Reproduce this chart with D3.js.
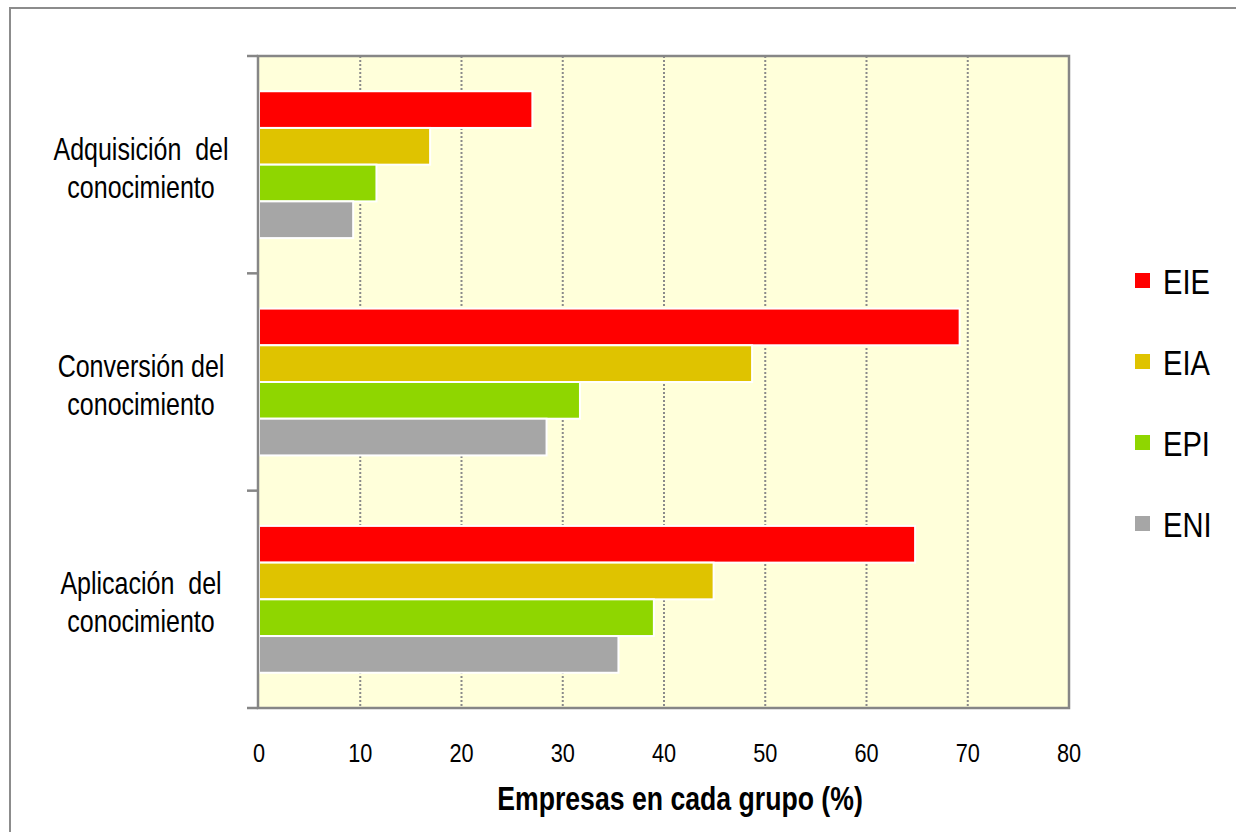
<!DOCTYPE html>
<html><head><meta charset="utf-8">
<script src="https://cdn.jsdelivr.net/npm/d3@7/dist/d3.min.js"></script>
<style>
html,body{margin:0;padding:0;background:#fff;}
svg text{font-family:"Liberation Sans",Arial,sans-serif;fill:#000;}
</style></head>
<body>
<svg id="c" width="1236" height="832"></svg>
<script>
const categories = ["Adquisición del conocimiento","Conversión del conocimiento","Aplicación del conocimiento"];
const categoryLines = [["Adquisición  del","conocimiento"],["Conversión del","conocimiento"],["Aplicación  del","conocimiento"]];
const series = ["EIE","EIA","EPI","ENI"];
const colors = ["#FF0000","#DFC300","#8FD600","#A6A6A6"];
const EIE = [27.0, 69.2, 64.8];
const EIA = [16.9, 48.7, 44.9];
const EPI = [11.6, 31.7, 39.0];
const ENI = [9.3, 28.4, 35.5];
const xTicks = [0,10,20,30,40,50,60,70,80];
const xTitle = "Empresas en cada grupo (%)";

const values = [EIE, EIA, EPI, ENI];
const svg = d3.select("#c");
const NARROW = 0.82;

function ntext(g, x, y, size, str, anchor, weight){
  const t = g.append("text")
    .attr("transform",`translate(${x},${y}) scale(${NARROW},1)`)
    .attr("text-anchor",anchor||"start").attr("font-size",size)
    .style("white-space","pre").text(str);
  if(weight) t.attr("font-weight",weight);
  return t;
}

// outer border (only left/top visible in frame)
svg.append("rect").attr("x",10).attr("y",8).attr("width",1300).attr("height",900)
  .attr("fill","none").attr("stroke","#8c8c8c").attr("stroke-width",2);

const L=259, R=1069, T=56, B=708;
const x = d3.scaleLinear().domain([0,80]).range([L,R]);
const y = d3.scaleBand().domain(categories).range([T,B]).paddingInner(0).paddingOuter(0);
const ys = d3.scaleBand().domain(series).range([0,y.bandwidth()]).paddingInner(0).paddingOuter(0.96);

svg.append("rect").attr("x",L).attr("y",T).attr("width",R-L).attr("height",B-T).attr("fill","#FFFFDA");

// gridlines
svg.append("g").selectAll("line").data(xTicks.filter(t=>t>0&&t<80)).join("line")
  .attr("x1",d=>x(d)).attr("x2",d=>x(d)).attr("y1",T).attr("y2",B)
  .attr("stroke","#8a8a8a").attr("stroke-width",2).attr("stroke-dasharray","2,2");

// bars
series.forEach((s,si)=>{
  svg.append("g").selectAll("rect").data(categories).join("rect")
    .attr("x",x(0)).attr("y",(c)=>y(c)+ys(s))
    .attr("width",(c,i)=>x(values[si][i])-x(0))
    .attr("height",ys.bandwidth())
    .attr("fill",colors[si]).attr("stroke","#fff").attr("stroke-width",2);
});

// plot border
svg.append("rect").attr("x",L-1).attr("y",T).attr("width",R-L+1).attr("height",B-T)
  .attr("fill","none").attr("stroke","#868686").attr("stroke-width",2.5);
// y ticks
const yEdges = categories.map(c=>y(c)).concat([B]);
svg.append("g").selectAll("line").data(yEdges).join("line")
  .attr("x1",L-12).attr("x2",L-1).attr("y1",d=>d).attr("y2",d=>d)
  .attr("stroke","#868686").attr("stroke-width",2.5);

// x tick labels
const gx = svg.append("g");
xTicks.forEach(d=>ntext(gx, x(d), 762, 26.5, String(d), "middle"));

// x title
ntext(svg, 680, 810, 32.5, xTitle, "middle", "bold");

// category labels
const gc = svg.append("g");
categories.forEach((c,i)=>{
  const cy = y(c)+y.bandwidth()/2;
  categoryLines[i].forEach((ln,j)=>{
    ntext(gc, 141, cy-5+j*38, 30.5, ln, "middle");
  });
});

// legend
series.forEach((s,i)=>{
  const base = 294 + i*81;
  svg.append("rect").attr("x",1135).attr("y",base-21).attr("width",15).attr("height",15).attr("fill",colors[i]);
  ntext(svg, 1163, base, 35.5, s, "start");
});
</script>
</body></html>
